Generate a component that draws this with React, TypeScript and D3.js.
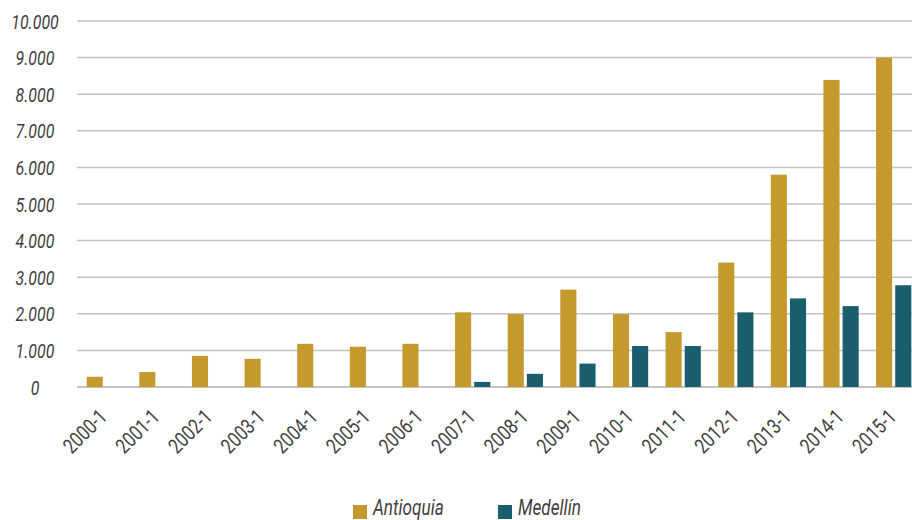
import { useEffect, useRef } from 'react';
import * as d3 from 'd3';

const periods = [
  '2000-1', '2001-1', '2002-1', '2003-1', '2004-1', '2005-1', '2006-1', '2007-1',
  '2008-1', '2009-1', '2010-1', '2011-1', '2012-1', '2013-1', '2014-1', '2015-1',
];
const antioquia = [280, 410, 850, 770, 1180, 1100, 1180, 2040, 1990, 2660, 1990, 1500, 3400, 5800, 8390, 9000];
const medellin = [0, 0, 0, 0, 0, 0, 0, 140, 360, 640, 1120, 1120, 2040, 2420, 2210, 2780];
const seriesNames = ['Antioquia', 'Medellín'];
const seriesColors = ['#C49A2E', '#1A5E6E'];
const yTicks = [0, 1000, 2000, 3000, 4000, 5000, 6000, 7000, 8000, 9000, 10000];

const W = 912;
const H = 520;
// no condensed font installed, so Roboto is squeezed horizontally
const FONT = 'Roboto, "DejaVu Sans Condensed", sans-serif';

const App = () => {
  const svgRef = useRef<SVGSVGElement>(null);

  useEffect(() => {
    if (!svgRef.current) return;
    const svg = d3.select(svgRef.current);
    svg.selectAll('*').remove();

    const x = d3.scaleBand<string>()
      .domain(periods)
      .range([78, 920])
      .paddingInner(0.33)
      .paddingOuter(0.165);

    const xs = d3.scaleBand<string>()
      .domain(seriesNames)
      .range([0, x.bandwidth()])
      .paddingInner(0.16);

    const y = d3.scaleLinear().domain([0, 10000]).range([387, 21]);

    const fmt = (v: number) => d3.format(',')(v).replace(/,/g, '.');

    // gridlines
    svg.append('g')
      .selectAll('line')
      .data(yTicks)
      .enter()
      .append('line')
      .attr('x1', 77)
      .attr('x2', W)
      .attr('y1', d => y(d))
      .attr('y2', d => y(d))
      .attr('stroke', d => (d === 0 ? '#b0b0b0' : '#c2c2c2'))
      .attr('stroke-width', 1.5);

    // y labels
    svg.append('g')
      .selectAll('text')
      .data(yTicks)
      .enter()
      .append('text')
      .attr('transform', d => `translate(35,${y(d) + 7.5}) scale(0.76,1)`)
      .attr('text-anchor', 'middle')
      .style('font-family', FONT)
      .style('font-style', 'italic')
      .style('font-size', '21px')
      .style('fill', '#3f3f3f')
      .text(d => fmt(d));

    // bars
    const series = [antioquia, medellin];
    series.forEach((vals, si) => {
      svg.append('g')
        .selectAll('rect')
        .data(vals)
        .enter()
        .append('rect')
        .attr('x', (_, i) => (x(periods[i]) ?? 0) + (xs(seriesNames[si]) ?? 0))
        .attr('width', xs.bandwidth())
        .attr('y', d => y(d))
        .attr('height', d => y(0) - y(d))
        .attr('fill', seriesColors[si]);
    });

    // x labels
    svg.append('g')
      .selectAll('text')
      .data(periods)
      .enter()
      .append('text')
      .attr('transform', d => `translate(${(x(d) ?? 0) + x.bandwidth() / 2 + 4},${418}) rotate(-45) scale(0.8,1)`)
      .attr('text-anchor', 'end')
      .style('font-family', FONT)
      .style('font-size', '21px')
      .style('fill', '#3f3f3f')
      .text(d => d);

    // legend
    const legendX = [353, 498];
    const legend = svg.append('g');
    seriesNames.forEach((name, i) => {
      legend.append('rect')
        .attr('x', legendX[i])
        .attr('y', 505)
        .attr('width', 14)
        .attr('height', 14)
        .attr('fill', seriesColors[i]);
      legend.append('text')
        .attr('transform', `translate(${legendX[i] + 20},515) scale(0.78,1)`)
        .style('font-family', FONT)
        .style('font-style', 'italic')
        .style('font-size', '22px')
        .style('fill', '#3f3f3f')
        .text(name);
    });
  }, []);

  return (
    <svg
      ref={svgRef}
      width={W}
      height={H}
      style={{ position: 'absolute', left: 0, top: 0, background: '#fff' }}
    />
  );
};

export default App;
